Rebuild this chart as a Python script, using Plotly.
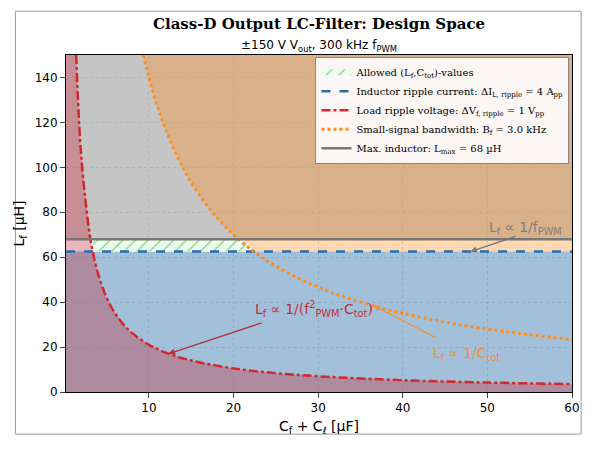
import plotly.graph_objects as go

red_x = [1.4, 2, 3, 3.36, 4, 5, 6, 7, 8, 10, 12, 15, 20, 25, 30, 40, 50, 60]
red_y = [150, 105, 70, 62.5, 52.5, 42, 35, 30, 26.3, 21, 17.5, 14, 10.5, 8.4, 7, 5.25, 4.2, 3.5]
org_x = [9.33, 10, 11, 12, 13.5, 15, 17.5, 20, 22.4, 25, 30, 35, 40, 45, 50, 55, 60]
org_y = [150, 140, 127.3, 116.7, 103.7, 93.3, 80, 70, 62.5, 56, 46.7, 40, 35, 31.1, 28, 25.5, 23.3]
L_RIPPLE = 62.5
L_MAX = 68
X0, X1, Y1 = 0.2, 60, 150

fig = go.Figure()
fig.add_trace(go.Scatter(x=[X0, X1, X1, X0], y=[L_MAX, L_MAX, Y1, Y1], fill='toself', mode='none',
                         fillcolor='rgba(150,150,150,0.55)', showlegend=False, hoverinfo='skip'))
ox = [x for x, y in zip(org_x, org_y) if y >= L_RIPPLE]
oy = [y for y in org_y if y >= L_RIPPLE]
fig.add_trace(go.Scatter(x=ox + [X1, X1], y=oy + [L_RIPPLE, Y1], fill='toself', mode='none',
                         fillcolor='rgba(255,140,30,0.35)', showlegend=False, hoverinfo='skip'))
fig.add_trace(go.Scatter(x=[X0, X1, X1, X0], y=[0, 0, L_RIPPLE, L_RIPPLE], fill='toself', mode='none',
                         fillcolor='rgba(70,130,180,0.5)', showlegend=False, hoverinfo='skip'))
fig.add_trace(go.Scatter(x=[X0] + red_x + [X1, X0], y=[Y1] + red_y + [0, 0], fill='toself', mode='none',
                         fillcolor='rgba(200,40,60,0.35)', showlegend=False, hoverinfo='skip'))
fig.add_trace(go.Scatter(x=[red_x[3], 21.0, 22.4, red_x[3]], y=[L_MAX, L_MAX, L_RIPPLE, L_RIPPLE],
                         fill='toself', mode='none', fillcolor='rgba(220,255,220,0.9)',
                         fillpattern=dict(shape='/', fgcolor='#2ca02c', bgcolor='rgba(235,255,235,0.95)', size=9, solidity=0.15),
                         name='Allowed (L<sub>f</sub>,C<sub>tot</sub>)-values', hoverinfo='skip'))
fig.add_trace(go.Scatter(x=[X0, X1], y=[L_RIPPLE, L_RIPPLE], mode='lines',
                         line=dict(color='#1f6fb0', width=2.5, dash='dash'),
                         name='Inductor ripple current: ΔI<sub>L, ripple</sub> = 4 A<sub>pp</sub>'))
fig.add_trace(go.Scatter(x=red_x, y=red_y, mode='lines', line=dict(color='#d62728', width=2.5, dash='dashdot', shape='spline'),
                         name='Load ripple voltage: ΔV<sub>f, ripple</sub> = 1 V<sub>pp</sub>'))
fig.add_trace(go.Scatter(x=org_x, y=org_y, mode='lines', line=dict(color='#ff8c1e', width=3, dash='dot', shape='spline'),
                         name='Small-signal bandwidth: B<sub>f</sub> = 3.0 kHz'))
fig.add_trace(go.Scatter(x=[X0, X1], y=[L_MAX, L_MAX], mode='lines', line=dict(color='#777777', width=2.5),
                         name='Max. inductor: L<sub>max</sub> = 68 µH'))

fig.add_annotation(x=48, y=62.5, ax=53.5, ay=69.5, xref='x', yref='y', axref='x', ayref='y',
                   text='', showarrow=True, arrowhead=2, arrowcolor='#777777', arrowwidth=1.3)
fig.add_annotation(x=54.5, y=73, text='L<sub>f</sub> ∝ 1/f<sub>PWM</sub>', showarrow=False,
                   font=dict(size=14, color='#808080'))
fig.add_annotation(x=12.3, y=17, ax=23.5, ay=31, xref='x', yref='y', axref='x', ayref='y',
                   text='', showarrow=True, arrowhead=2, arrowcolor='#b0303a', arrowwidth=1.3)
fig.add_annotation(x=29.5, y=37, text='L<sub>f</sub> ∝ 1/(f<sup>2</sup><sub>PWM</sub>·C<sub>tot</sub>)', showarrow=False,
                   font=dict(size=14, color='#c0303a'))
fig.add_annotation(x=36.5, y=38.5, ax=44, ay=24, xref='x', yref='y', axref='x', ayref='y',
                   text='', showarrow=True, arrowhead=2, arrowcolor='#f0903a', arrowwidth=1.3)
fig.add_annotation(x=47.5, y=17, text='L<sub>f</sub> ∝ 1/C<sub>tot</sub>', showarrow=False,
                   font=dict(size=14, color='#f0903a'))

fig.add_annotation(x=0.5, y=1.125, xref='paper', yref='paper', showarrow=False,
                   text='<b>Class-D Output LC-Filter: Design Space</b>',
                   font=dict(family='DejaVu Serif', size=15, color='black'))
fig.add_annotation(x=0.5, y=1.055, xref='paper', yref='paper', showarrow=False,
                   text='±150 V V<sub>out</sub>, 300 kHz f<sub>PWM</sub>', font=dict(size=12, color='black'))
fig.add_shape(type='rect', xref='paper', yref='paper', x0=-0.1, x1=1.018, y0=-0.125, y1=1.13,
              line=dict(color='#999999', width=1))

fig.update_layout(
    width=583, height=434, margin=dict(l=54, r=11, t=47, b=45),
    paper_bgcolor='white', plot_bgcolor='white',
    font=dict(family='DejaVu Sans', size=12, color='black'),
    legend=dict(x=0.995, y=0.995, xanchor='right', yanchor='top', bgcolor='rgba(255,255,255,0.9)',
                bordercolor='#888888', borderwidth=1, font=dict(family='DejaVu Serif', size=10),
                tracegroupgap=0, itemwidth=30),
)
fig.update_xaxes(range=[X0, X1], tickvals=[10, 20, 30, 40, 50, 60], title='C<sub>f</sub> + C<sub>ℓ</sub> [µF]',
                 showgrid=True, gridcolor='rgba(120,120,120,0.25)', griddash='dot', ticks='outside',
                 showline=True, linecolor='black', mirror=True, zeroline=False, title_standoff=6)
fig.update_yaxes(range=[0, Y1], tickvals=[0, 20, 40, 60, 80, 100, 120, 140], title='L<sub>f</sub> [µH]',
                 showgrid=True, gridcolor='rgba(120,120,120,0.25)', griddash='dot', ticks='outside',
                 showline=True, linecolor='black', mirror=True, zeroline=False, title_standoff=6)
fig.write_html('out.html')
